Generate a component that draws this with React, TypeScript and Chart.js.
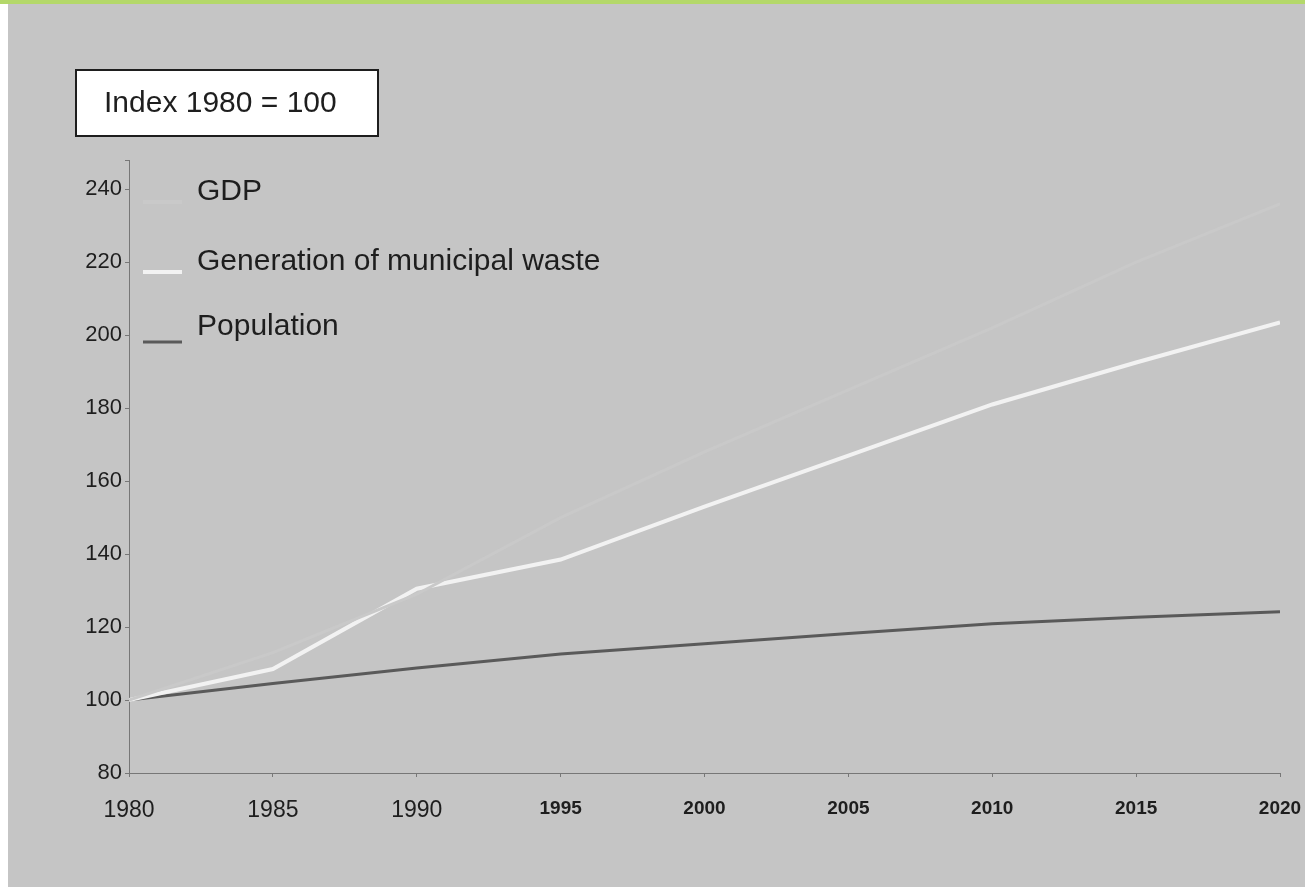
import React, { useEffect, useRef } from "react";
import { Chart, registerables } from "chart.js";

Chart.register(...registerables);

const years = [1980, 1985, 1990, 1995, 2000, 2005, 2010, 2015, 2020];
const gdp = [100, 113, 129, 150, 168, 185, 202, 220, 236];
const waste = [100, 108.5, 130.5, 138.5, 153, 167, 181, 192.5, 203.5];
const population = [100, 104.5, 108.8, 112.6, 115.4, 118.2, 120.9, 122.7, 124.2];
const seriesNames = ["GDP", "Generation of municipal waste", "Population"];
const seriesColors = ["#c9c9c9", "#f2f2f2", "#5a5a5a"];
const indexLabel = "Index 1980 = 100";

const FONT = "'Liberation Sans', Arial, sans-serif";

const decorPlugin = {
  id: "decor",
  beforeDraw(chart: any) {
    const ctx = chart.ctx;
    ctx.save();
    ctx.fillStyle = "#c5c5c5";
    ctx.fillRect(0, 0, chart.width, chart.height);
    ctx.fillStyle = "#ffffff";
    ctx.fillRect(0, 0, 8, chart.height);
    ctx.fillStyle = "#b4d86a";
    ctx.fillRect(0, 0, chart.width, 4);
    ctx.restore();
  },
  afterDraw(chart: any) {
    const ctx = chart.ctx;
    ctx.save();
    ctx.fillStyle = "#ffffff";
    ctx.fillRect(76, 70, 302, 66);
    ctx.strokeStyle = "#1e1e1e";
    ctx.lineWidth = 2;
    ctx.strokeRect(76, 70, 302, 66);
    ctx.fillStyle = "#1e1e1e";
    ctx.font = `30px ${FONT}`;
    ctx.textBaseline = "middle";
    ctx.textAlign = "left";
    ctx.fillText(indexLabel, 104, 104);
    const rows = [192, 262, 327];
    const swY = [202, 272, 342];
    seriesNames.forEach((name, i) => {
      ctx.strokeStyle = seriesColors[i];
      ctx.lineWidth = i === 2 ? 3 : 4;
      ctx.beginPath();
      ctx.moveTo(143, swY[i]);
      ctx.lineTo(182, swY[i]);
      ctx.stroke();
      ctx.fillStyle = "#1e1e1e";
      ctx.font = `30px ${FONT}`;
      ctx.fillText(name, 197, rows[i]);
    });
    ctx.restore();
  },
};

export default function App() {
  const ref = useRef<HTMLCanvasElement | null>(null);
  useEffect(() => {
    if (!ref.current) return;
    const mk = (vals: number[]) => years.map((y, i) => ({ x: y, y: vals[i] }));
    const chart = new Chart(ref.current, {
      type: "line",
      data: {
        datasets: [
          { label: seriesNames[0], data: mk(gdp), borderColor: seriesColors[0], borderWidth: 3, pointRadius: 0, tension: 0 },
          { label: seriesNames[1], data: mk(waste), borderColor: seriesColors[1], borderWidth: 4, pointRadius: 0, tension: 0 },
          { label: seriesNames[2], data: mk(population), borderColor: seriesColors[2], borderWidth: 3, pointRadius: 0, tension: 0 },
        ],
      },
      options: {
        animation: false,
        responsive: false,
        maintainAspectRatio: false,
        layout: { padding: { left: 0, top: 160, right: 25, bottom: 54 } },
        plugins: { legend: { display: false }, tooltip: { enabled: false } },
        scales: {
          x: {
            type: "linear",
            min: 1980,
            max: 2020,
            afterFit: (s: any) => { s.height = 60; s.paddingRight = 0; s.paddingLeft = 0; },
            grid: { display: true, drawOnChartArea: false, drawTicks: true, tickLength: 4, color: "#777" },
            border: { display: true, color: "#777", width: 1 },
            ticks: {
              stepSize: 5,
              padding: 20,
              color: "#1e1e1e",
              maxRotation: 0,
              autoSkip: false,
              callback: (v: any) => String(v),
              font: (c: any) => ({ family: FONT, size: c.tick && c.tick.value <= 1990 ? 23 : 19, weight: c.tick && c.tick.value <= 1990 ? "normal" : "bold" }),
            },
          },
          y: {
            min: 80,
            max: 248,
            afterFit: (s: any) => { s.width = 129; s.paddingTop = 0; s.paddingBottom = 0; },
            grid: { display: true, drawOnChartArea: false, drawTicks: true, tickLength: 4, color: "#777" },
            border: { display: true, color: "#777", width: 1 },
            ticks: {
              stepSize: 20,
              padding: 3,
              color: "#1e1e1e",
              font: { family: FONT, size: 22 },
              callback: (v: any) => (Number(v) % 20 === 0 ? String(v) : ""),
            },
          },
        },
      },
      plugins: [decorPlugin],
    });
    return () => chart.destroy();
  }, []);
  return (
    <div style={{ position: "fixed", left: 0, top: 0, width: 1305, height: 887 }}>
      <canvas ref={ref} width={1305} height={887} style={{ display: "block" }} />
    </div>
  );
}
